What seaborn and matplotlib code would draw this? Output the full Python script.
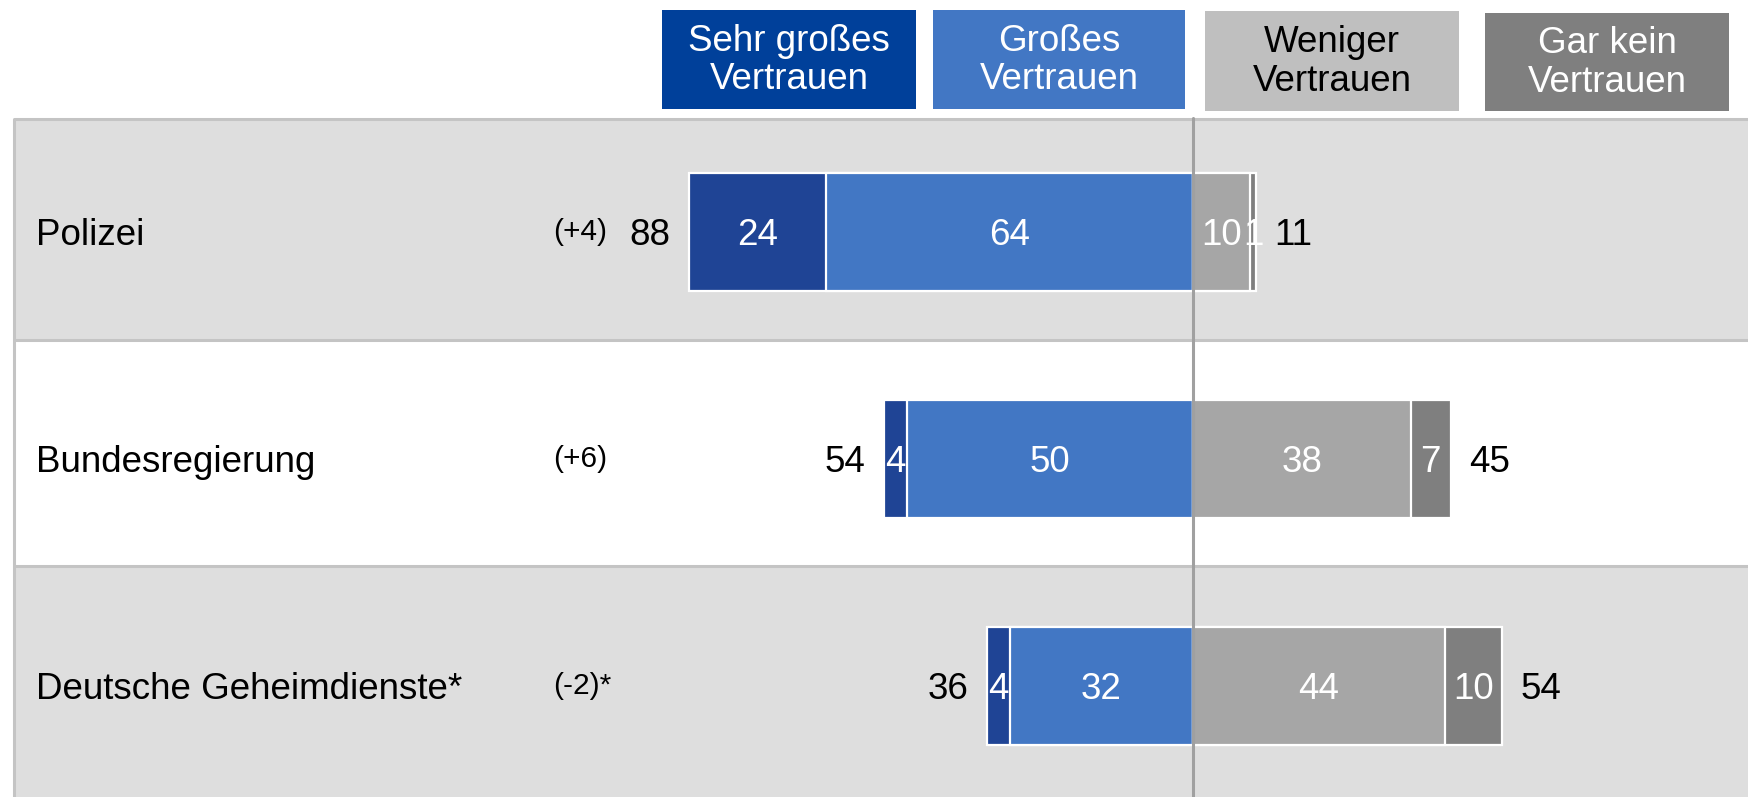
import numpy as np
import pandas as pd
import matplotlib
matplotlib.use("Agg")
import matplotlib.pyplot as plt
import seaborn as sns
from matplotlib.patches import Rectangle

# ---- data ----
categories = ["Polizei", "Bundesregierung", "Deutsche Geheimdienste*"]
changes = ["(+4)", "(+6)", "(-2)*"]
sehr_gross = [24, 4, 4]
gross = [64, 50, 32]
weniger = [10, 38, 44]
gar_kein = [1, 7, 10]
legend_labels = ["Sehr großes\nVertrauen", "Großes\nVertrauen",
                 "Weniger\nVertrauen", "Gar kein\nVertrauen"]

# ---- style ----
W, H = 1748, 797
sns.set_style("white")
plt.rcParams["font.family"] = ["Liberation Sans", "DejaVu Sans"]

C_SEHR_BAR = "#1f4495"
C_SEHR_LEG = "#00409a"
C_GROSS = "#4277c4"
C_WEN_BAR = "#a6a6a6"
C_WEN_LEG = "#bfbfbf"
C_GAR = "#7f7f7f"
BAND = "#dedede"
BORDER = "#c4c4c4"

FS = 26.5
FS_CHG = 21.5

fig = plt.figure(figsize=(W / 100, H / 100), dpi=100)
ax = fig.add_axes([0, 0, 1, 1])

PX = 5.73          # pixels per percentage point
X0 = 1193          # pixel position of zero line
Y0, DY = 232, 227  # pixel centre of first row, row pitch
xl, xr = -X0 / PX, (W - X0) / PX
yt, yb = -Y0 / DY, (H - Y0) / DY


def fx(px):
    return (px - X0) / PX


def fy(py):
    return (py - Y0) / DY


df = pd.DataFrame({
    "cat": categories,
    "neg_total": [-(a + b) for a, b in zip(sehr_gross, gross)],
    "neg_gross": [-b for b in gross],
    "pos_total": [a + b for a, b in zip(weniger, gar_kein)],
    "pos_wen": weniger,
})

# ---- row bands (pixel boundaries of the table rows) ----
n = len(categories)
row_edges = [119, 340, 566, H + 20]
for i in range(n):
    top, bot = fy(row_edges[i]), fy(row_edges[i + 1])
    if i % 2 == 0:
        ax.axhspan(top, bot, xmin=14 / W, xmax=1, color=BAND, zorder=0, lw=0)
    ax.plot([fx(14), xr], [top, top], color=BORDER, lw=2.2, zorder=1,
            solid_capstyle="butt")
ax.plot([fx(14), fx(14)], [fy(row_edges[0]), yb + 0.1], color=BORDER,
        lw=2.2, zorder=1)

# ---- bars ----
common = dict(y="cat", order=categories, orient="h", width=0.524,
              saturation=1, edgecolor="white", linewidth=1.6,
              errorbar=None, ax=ax, zorder=3)
sns.barplot(data=df, x="neg_total", color=C_SEHR_BAR, **common)
sns.barplot(data=df, x="neg_gross", color=C_GROSS, **common)
sns.barplot(data=df, x="pos_total", color=C_GAR, **common)
sns.barplot(data=df, x="pos_wen", color=C_WEN_BAR, **common)

# zero line
ax.axvline(0, ymin=0, ymax=1 - 118 / H, color="#a0a0a0", lw=2.2, zorder=5)

# ---- labels ----
gap = 18 / PX
dy = 0.015
for i in range(n):
    s, g, w, k = sehr_gross[i], gross[i], weniger[i], gar_kein[i]
    yy = i + dy
    ax.text(-(g + s / 2), yy, str(s), ha="center", va="center",
            color="white", fontsize=FS, zorder=6)
    ax.text(-g / 2, yy, str(g), ha="center", va="center",
            color="white", fontsize=FS, zorder=6)
    ax.text(w / 2, yy, str(w), ha="center", va="center",
            color="white", fontsize=FS, zorder=6)
    ax.text(w + k / 2, yy, str(k), ha="center", va="center",
            color="white", fontsize=FS, zorder=6)
    ax.text(-(s + g) - gap, yy, str(s + g), ha="right", va="center",
            color="black", fontsize=FS, zorder=6)
    ax.text(w + k + gap, yy, str(w + k), ha="left", va="center",
            color="black", fontsize=FS, zorder=6)
    ax.text(fx(36), yy, categories[i], ha="left", va="center",
            color="black", fontsize=FS, zorder=6)
    ax.text(fx(553), yy - 0.015, changes[i], ha="left", va="center",
            color="black", fontsize=FS_CHG, zorder=6)

# ---- legend boxes (pixel layout) ----
boxes = [(662, 916, 10, 109), (933, 1185, 10, 109),
         (1205, 1459, 11, 111), (1485, 1729, 13, 111)]
leg_fc = [C_SEHR_LEG, C_GROSS, C_WEN_LEG, C_GAR]
leg_tc = ["white", "white", "black", "white"]
for (x1, x2, y1, y2), fc, tc, lab in zip(boxes, leg_fc, leg_tc, legend_labels):
    ax.add_patch(Rectangle((x1 / W, 1 - y2 / H), (x2 - x1) / W, (y2 - y1) / H,
                           transform=ax.transAxes, facecolor=fc,
                           edgecolor="none", zorder=6))
    ax.text((x1 + x2) / 2 / W, 1 - ((y1 + y2) / 2 + 1) / H, lab,
            transform=ax.transAxes, ha="center", va="center", color=tc,
            fontsize=FS, linespacing=1.14, zorder=7)

ax.set_xlim(xl, xr)
ax.set_ylim(yb, yt)
ax.set_axis_off()

fig.savefig("out.png", dpi=100)
